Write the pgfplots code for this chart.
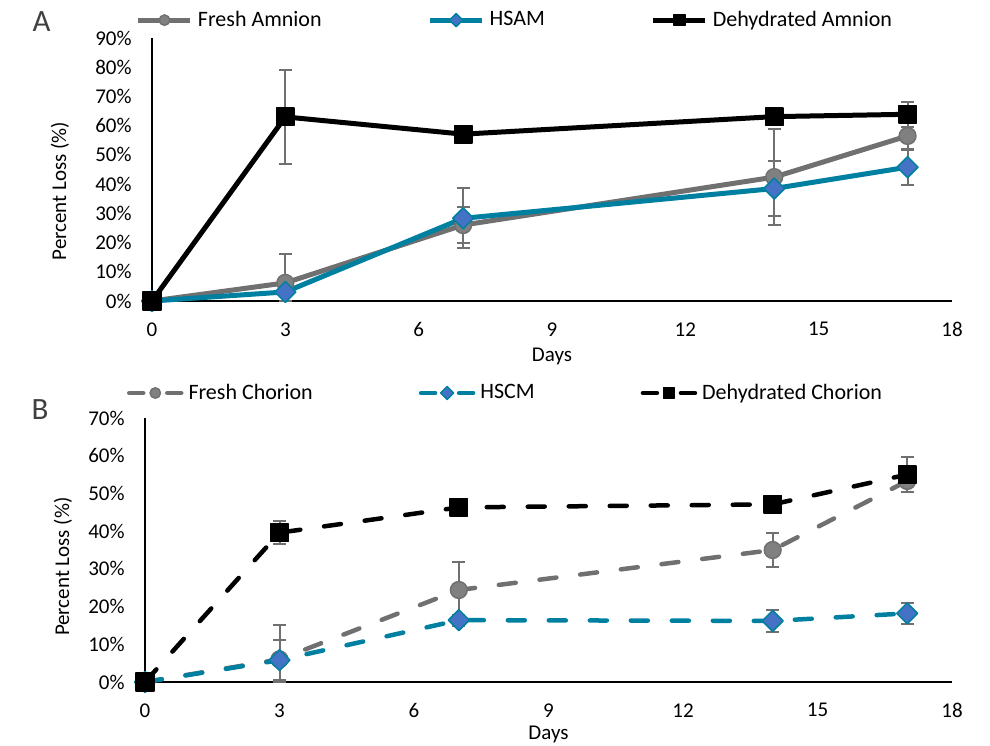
\documentclass[border=0pt]{standalone}
\usepackage{fontspec}
\setmainfont{Carlito}
\usepackage{pgfplots}
\pgfplotsset{compat=1.18}
\usepackage{pgfplotstable}

\definecolor{lgray}{RGB}{112,112,112}
\definecolor{mgray}{RGB}{128,128,128}
\definecolor{teal2}{RGB}{0,128,160}
\definecolor{dblue}{RGB}{68,114,196}
\definecolor{ebar}{RGB}{112,112,112}
\definecolor{lettc}{RGB}{64,64,64}

% Panel A data: x, y (%), error plus, error minus
\pgfplotstableread{
x y ep em
0 0 0 0
3 6.2 9.8 6.2
7 26 6 6
14 42.4 16.5 16.5
17 56.5 4.8 4.8
}\freshA
\pgfplotstableread{
x y ep em
0 0 0 0
3 3.1 1.5 1.5
7 28.3 10.3 10.3
14 38.5 9.4 9.4
17 45.8 6.1 6.1
}\hsamA
\pgfplotstableread{
x y ep em
0 0 0 0
3 63.0 16 16
7 57.1 2 2
14 63.1 2 2
17 63.9 4.3 4.3
}\dehA

% Panel B data
\pgfplotstableread{
x y ep em
0 0 0 0
3 6.0 9.0 6.0
7 24.4 7.5 7.5
14 35.0 4.4 4.4
17 53.3 3.0 3.0
}\freshB
\pgfplotstableread{
x y ep em
0 0 0 0
3 5.8 5.3 5.3
7 16.4 1.5 1.5
14 16.2 3.0 3.0
17 18.2 2.7 2.7
}\hscmB
\pgfplotstableread{
x y ep em
0 0 0 0
3 39.6 3.0 3.0
7 46.3 1.5 1.5
14 47.1 1.5 1.5
17 55.0 4.7 4.7
}\dehB

\pgfplotsset{
  panel/.style={
    scale only axis, xmin=0, xmax=18, xtick={0,3,...,18},
    axis x line*=bottom, axis y line*=left,
    axis line style={-, black, line width=0.9pt},
    major tick length=0pt, clip=false,
    ticklabel style={font=\fontsize{10.5}{12}\selectfont},
    /pgf/number format/assume math mode=true,
    yticklabel={\pgfmathprintnumber{\tick}\%},
    yticklabel style={anchor=east, inner sep=0pt, xshift=-10pt},
    xticklabel style={anchor=north, inner sep=0pt, yshift=-10.5pt},
    label style={font=\fontsize{10.5}{12}\selectfont},
    xlabel={Days}, ylabel={Percent Loss (\%)},
    legend columns=3,
    legend style={draw=none, fill=none, inner sep=0pt, outer sep=0pt, anchor=west,
      font=\fontsize{11}{13}\selectfont,
      nodes={inner sep=0pt},
      /tikz/every odd column/.append style={column sep=2.5pt},
      /tikz/every even column/.append style={column sep=53pt}},
  },
  errs/.style={draw=none, mark=none, forget plot,
    error bars/.cd, y dir=both, y explicit,
    error bar style={draw=ebar, line width=1pt, solid},
    error mark options={draw=ebar, line width=1pt, mark size=3.2pt, solid, rotate=90}},
  legA/.style={legend image code/.code={
    \draw[mark repeat=2, mark phase=2, ##1, every mark/.append style={scale=0.62}]
      plot coordinates {(0pt,0pt) (13pt,0pt) (26pt,0pt)};}},
  legB/.style={legend image code/.code={
    \draw[mark repeat=2, mark phase=2, ##1, dash pattern=on 7pt off 12pt, every mark/.append style={scale=0.62}]
      plot coordinates {(0pt,0pt) (13pt,0pt) (26pt,0pt)};}},
  sfresh/.style={lgray, line width=2.5pt, line join=round, mark=*, mark size=4.2pt,
    mark options={fill=mgray, draw=lgray, line width=0.75pt, solid}},
  shs/.style={teal2, line width=2.5pt, line join=round, mark=square*, mark size=3.7pt,
    mark options={rotate=45, fill=dblue, draw=teal2, line width=0.75pt, solid}},
  sdeh/.style={black, line width=2.5pt, line join=round, mark=square*, mark size=4.4pt,
    mark options={fill=black, draw=black, line width=0.75pt, solid, line join=round}},
  dashB/.style={dash pattern=on 8.5pt off 12pt, line cap=round, line width=2.25pt},
}

\begin{document}
\begin{tikzpicture}
\useasboundingbox (0pt,0pt) rectangle (495pt,-372.5pt);

\node[font=\fontsize{15.5}{18}\selectfont, text=lettc] at (20.75pt,-11pt) {A};
\node[font=\fontsize{15.5}{18}\selectfont, text=lettc] at (20pt,-205pt) {B};

% ---------- Panel A ----------
\begin{axis}[panel, legA,
  at={(76pt,-150.5pt)}, anchor=south west,
  width=400pt, height=131.5pt,
  ymin=0, ymax=90, ytick={0,10,...,90},
  xlabel style={at={(axis description cs:0.5,-0.209)}, anchor=center},
  ylabel style={at={(axis description cs:-0.115,0.418)}, anchor=center},
  legend style={at={(axis description cs:-0.02,1.068)}},
]
% error bars first (behind lines and markers)
\addplot[errs] table[x=x, y=y, y error plus=ep, y error minus=em] {\freshA};
\addplot[errs] table[x=x, y=y, y error plus=ep, y error minus=em] {\hsamA};
\addplot[errs] table[x=x, y=y, y error plus=ep, y error minus=em] {\dehA};

\addplot[sfresh] table[x=x, y=y] {\freshA};
\addlegendentry{Fresh Amnion}
\addplot[shs] table[x=x, y=y] {\hsamA};
\addlegendentry{HSAM}
\addplot[sdeh] table[x=x, y=y] {\dehA};
\addlegendentry{Dehydrated Amnion}
\end{axis}

% ---------- Panel B ----------
\begin{axis}[panel, legB,
  at={(72.5pt,-341pt)}, anchor=south west,
  width=403.5pt, height=132pt,
  ymin=0, ymax=70, ytick={0,10,...,70},
  xlabel style={at={(axis description cs:0.5,-0.197)}, anchor=center},
  ylabel style={at={(axis description cs:-0.1016,0.437)}, anchor=center},
  legend style={at={(axis description cs:-0.0223,1.0947)}},
]
\addplot[errs] table[x=x, y=y, y error plus=ep, y error minus=em] {\freshB};
\addplot[errs] table[x=x, y=y, y error plus=ep, y error minus=em] {\hscmB};
\addplot[errs] table[x=x, y=y, y error plus=ep, y error minus=em] {\dehB};

\addplot[sfresh, dashB] table[x=x, y=y] {\freshB};
\addlegendentry{Fresh Chorion}
\addplot[shs, dashB] table[x=x, y=y] {\hscmB};
\addlegendentry{HSCM}
\addplot[sdeh, dashB] table[x=x, y=y] {\dehB};
\addlegendentry{Dehydrated Chorion}
\end{axis}
\end{tikzpicture}
\end{document}
